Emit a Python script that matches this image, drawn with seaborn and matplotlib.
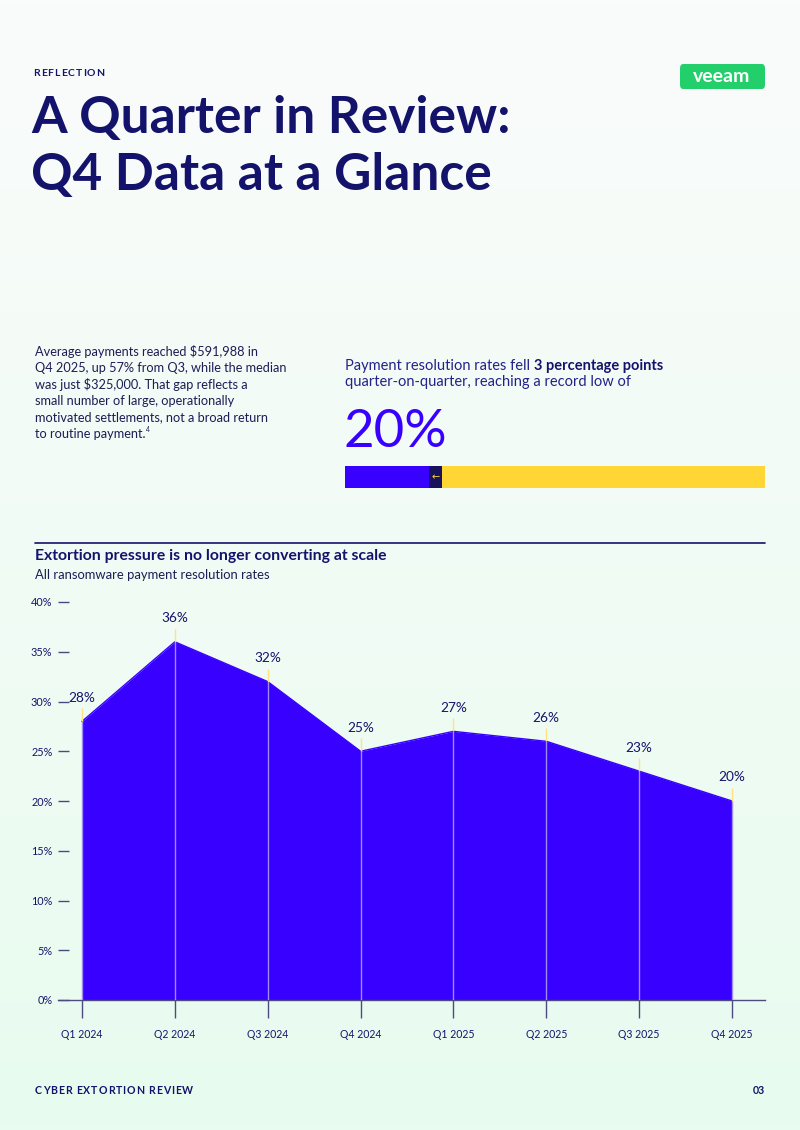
import numpy as np
import pandas as pd
import matplotlib
matplotlib.use("Agg")
import matplotlib.pyplot as plt
import seaborn as sns
from matplotlib.patches import FancyBboxPatch
from matplotlib.lines import Line2D

# ---------------- data ----------------
quarters = ["Q1 2024", "Q2 2024", "Q3 2024", "Q4 2024",
            "Q1 2025", "Q2 2025", "Q3 2025", "Q4 2025"]
rates = [28, 36, 32, 25, 27, 26, 23, 20]
y_ticks = [0, 5, 10, 15, 20, 25, 30, 35, 40]
y_tick_labels = ["0%", "5%", "10%", "15%", "20%", "25%", "30%", "35%", "40%"]
bar_segments = [20, 3, 77]          # current rate, quarterly drop, remainder
headline_value = "20%"

paragraph_lines = [
    "Average payments reached $591,988 in",
    "Q4 2025, up 57% from Q3, while the median",
    "was just $325,000. That gap reflects a",
    "small number of large, operationally",
    "motivated settlements, not a broad return",
    "to routine payment.",
]

# ---------------- style ----------------
sns.set_theme(style="white")
plt.rcParams["font.family"] = ["Lato", "DejaVu Sans"]

NAVY = "#14136b"
TEXT = "#1e1d55"
BLUE = "#3700ff"
DARK = "#16125e"
YELLOW = "#ffd633"
LAVENDER = "#9c8cf3"
AXIS = "#4c4b80"

W, H = 800, 1130
fig = plt.figure(figsize=(W / 100, H / 100), dpi=100)


def fx(px):
    return px / W


def fy(py):
    return 1 - py / H


def spaced_text(x_px, y_px, s, track_px, **kw):
    """Draw text with letter tracking by placing characters one by one."""
    rend = fig.canvas.get_renderer()
    xpos = x_px
    for ch in s:
        t = fig.text(fx(xpos), fy(y_px), ch, va="center", **kw)
        w = t.get_window_extent(rend).width if ch != " " else None
        if w is None:
            tmp = fig.text(0, 0, "a a", **kw)
            tmp2 = fig.text(0, 0, "aa", **kw)
            w = tmp.get_window_extent(rend).width - tmp2.get_window_extent(rend).width
            tmp.remove()
            tmp2.remove()
        xpos += w + track_px
    return xpos


# background gradient
bg = fig.add_axes([0, 0, 1, 1], zorder=-10)
grad = np.linspace(0, 1, 256).reshape(-1, 1)
c_top = np.array(matplotlib.colors.to_rgb("#fafbfb"))
c_bot = np.array(matplotlib.colors.to_rgb("#e8fcef"))
img = c_top[None, None, :] * (1 - grad[:, :, None]) + c_bot[None, None, :] * grad[:, :, None]
bg.imshow(img, aspect="auto", extent=[0, 1, 0, 1])
bg.axis("off")

# header
spaced_text(33, 73, "REFLECTION", 1.0, fontsize=7.5, weight="bold", color=NAVY)
fig.text(fx(31), fy(133), "A Quarter in Review:", fontsize=37, weight="bold", color=NAVY, va="baseline")
fig.text(fx(31), fy(190), "Q4 Data at a Glance", fontsize=37, weight="bold", color=NAVY, va="baseline")

# logo
logo = FancyBboxPatch((fx(680), fy(89)), fx(765) - fx(680), fy(64) - fy(89),
                      boxstyle="round,pad=0,rounding_size=0.004",
                      transform=fig.transFigure, facecolor="#22cf6b", edgecolor="none")
fig.add_artist(logo)
fig.text(fx(722), fy(77), "veeam", fontsize=14, color="white", weight="bold",
         ha="center", va="center")

# left paragraph
renderer = fig.canvas.get_renderer()
for i, line in enumerate(paragraph_lines):
    t = fig.text(fx(35), fy(352 + i * 16.4), line, fontsize=9.2, color=TEXT, va="center")
bb = t.get_window_extent(renderer)
fig.text(bb.x1 / W + 0.001, fy(352 + 5 * 16.4) + 0.004, "4", fontsize=5, color=TEXT, va="center")

# right statement
t1 = fig.text(fx(345), fy(366), "Payment resolution rates fell ", fontsize=10.5, color="#23228a", va="center")
bb = t1.get_window_extent(renderer)
fig.text(bb.x1 / W, fy(366), "3 percentage points", fontsize=10.5, color=NAVY, weight="bold", va="center")
fig.text(fx(345), fy(382), "quarter-on-quarter, reaching a record low of", fontsize=10.5, color="#23228a", va="center")
fig.text(fx(343), fy(447), headline_value, fontsize=38, color=BLUE, va="baseline")

# progress bar
bar_ax = fig.add_axes([fx(345), fy(488), (765 - 345) / W, (488 - 466) / H])
left = 0
for val, col in zip(bar_segments, [BLUE, DARK, YELLOW]):
    bar_ax.barh([0], [val], left=left, color=col, height=1.0, linewidth=0)
    left += val
bar_ax.text(bar_segments[0] + bar_segments[1] / 2, 0, "←", color=YELLOW, fontsize=7,
            ha="center", va="center", family=["DejaVu Sans"])
bar_ax.set_xlim(0, sum(bar_segments))
bar_ax.set_ylim(-0.5, 0.5)
bar_ax.axis("off")

# divider
fig.add_artist(Line2D([fx(35), fx(765)], [fy(543), fy(543)], color=NAVY, lw=1.2,
                      transform=fig.transFigure))
fig.text(fx(35), fy(556), "Extortion pressure is no longer converting at scale",
         fontsize=11.3, weight="bold", color=NAVY, va="center")
fig.text(fx(35), fy(575), "All ransomware payment resolution rates",
         fontsize=9.4, color=TEXT, va="center")

# main chart
ax = fig.add_axes([fx(58), fy(1000), (765 - 58) / W, (1000 - 602) / H])
ax.set_facecolor("none")
x = np.arange(len(quarters))
df = pd.DataFrame({"x": x, "rate": rates})
ax.fill_between(df["x"], df["rate"], 0, color=BLUE, linewidth=0, zorder=1)
sns.lineplot(data=df, x="x", y="rate", ax=ax, color=BLUE, lw=1, zorder=2)
ax.vlines(df["x"], 0, df["rate"], color=LAVENDER, lw=1, zorder=3)
ax.vlines(df["x"], df["rate"], df["rate"] + 1.3, color="#ffe27a", lw=1, zorder=3)
for xi, v in zip(df["x"], df["rate"]):
    ax.annotate(f"{v}%", (xi, v), xytext=(0, 17), textcoords="offset points",
                ha="center", va="center", fontsize=9.8, color=NAVY)

ax.set_xlim(-0.258, 7.355)
ax.set_ylim(0, 40)
ax.set_xticks(x)
ax.set_xticklabels(quarters)
ax.set_yticks(y_ticks)
ax.set_yticklabels(y_tick_labels)
ax.set_xlabel("")
ax.set_ylabel("")
for s in ["left", "top", "right"]:
    ax.spines[s].set_visible(False)
ax.spines["bottom"].set_color(AXIS)
ax.spines["bottom"].set_linewidth(1)
ax.tick_params(axis="x", direction="out", length=13, width=1, color=AXIS,
               labelsize=7.6, labelcolor=NAVY, pad=8, bottom=True)
ax.tick_params(axis="y", direction="in", length=8, width=1, color=AXIS,
               labelsize=7.8, labelcolor=NAVY, pad=4, left=True)
ax.grid(False)

# footer
spaced_text(35, 1090, "CYBER EXTORTION REVIEW", 0.9, fontsize=7.6, weight="bold", color=NAVY)
fig.text(fx(765), fy(1090), "03", fontsize=7.6, weight="bold", color=NAVY, va="center", ha="right")

fig.savefig("out.png", dpi=100)
